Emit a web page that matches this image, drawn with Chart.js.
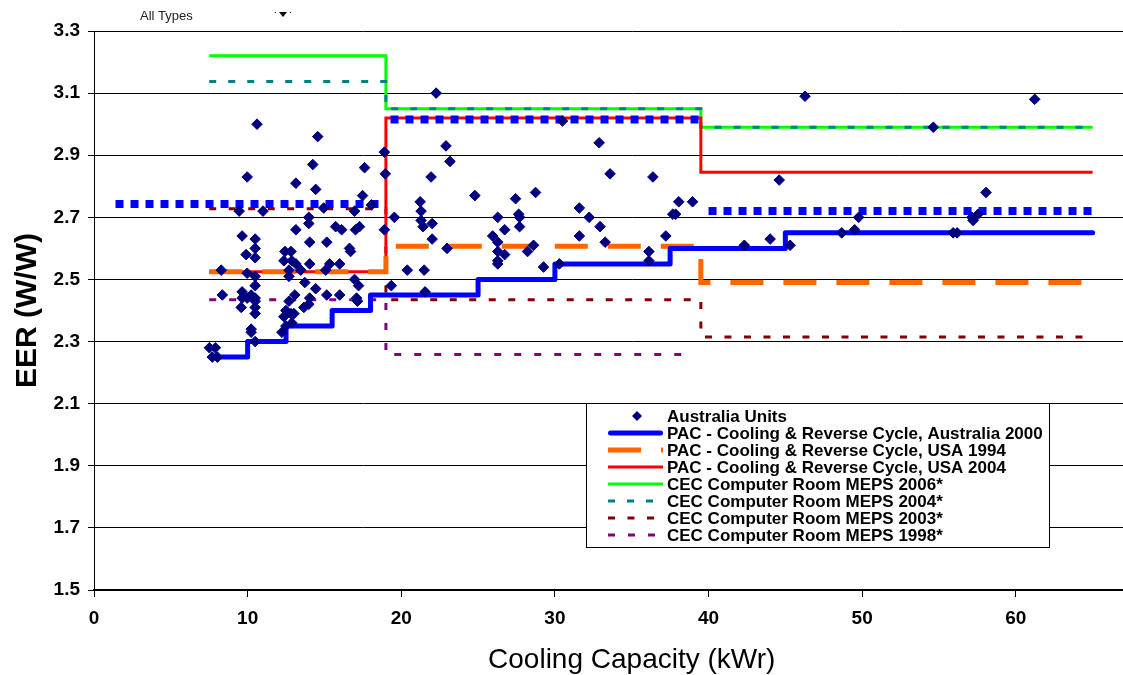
<!DOCTYPE html>
<html><head><meta charset="utf-8">
<script src="https://cdn.jsdelivr.net/npm/chart.js@4.4.1/dist/chart.umd.min.js"></script>
<style>
html,body{margin:0;padding:0;background:#fff;overflow:hidden;width:1123px;height:675px;}
#wrap{position:absolute;left:0;top:0;width:1190px;height:675px;}
</style></head><body>
<div id="wrap"><canvas id="c" width="1190" height="675"></canvas></div>
<script>
// ---- data ----
const seriesNames = [
  'Australia Units',
  'PAC - Cooling & Reverse Cycle, Australia 2000',
  'PAC - Cooling & Reverse Cycle, USA 1994',
  'PAC - Cooling & Reverse Cycle, USA 2004',
  'CEC Computer Room MEPS 2006*',
  'CEC Computer Room MEPS 2004*',
  'CEC Computer Room MEPS 2003*',
  'CEC Computer Room MEPS 1998*'
];
const xAxisTitle = 'Cooling Capacity (kWr)';
const yAxisTitle = 'EER (W/W)';
const filterLabel = 'All Types';

const ausUnitsX = [7.51,7.90,7.70,8.03,8.28,8.35,
 10.61,9.97,9.45,11.00,9.64,10.49,10.49,9.90,10.49,9.97,10.49,10.49,9.64,9.64,10.23,10.49,9.97,10.49,10.49,10.49,9.58,10.23,10.23,10.49,
 12.43,12.82,12.36,12.88,12.69,12.69,13.14,13.14,13.46,12.69,12.49,12.82,12.36,12.88,12.49,12.23,13.07,13.01,13.14,
 14.56,14.24,14.43,14.95,13.98,13.98,14.04,15.15,14.04,15.34,15.08,13.72,14.43,14.04,13.98,13.66,15.15,
 17.61,17.48,18.06,16.96,15.73,16.12,17.02,17.28,16.63,16.70,15.99,16.96,17.22,15.99,17.09,17.15,
 18.90,18.96,18.90,19.55,19.35,
 22.27,22.91,23.17,21.94,24.79,21.23,21.29,20.39,21.49,21.29,21.42,22.01,22.01,22.98,21.55,
 27.44,28.74,26.28,27.64,27.70,27.70,26.73,25.95,26.28,26.28,26.73,28.61,28.22,26.28,26.28,29.26,
 30.49,32.88,33.59,31.59,32.23,32.94,31.59,33.27,30.29,
 36.38,38.06,38.96,37.67,37.86,37.22,36.12,36.12,
 46.28,61.23,54.63,44.60,58.06,49.77,57.15,57.54,57.22,44.01,49.51,48.67,42.33,45.31,55.92,56.18];
const ausUnitsY = [2.28,2.28,2.25,2.25,2.53,2.45,
 3.00,2.83,2.72,2.72,2.64,2.63,2.60,2.58,2.57,2.52,2.51,2.48,2.46,2.44,2.45,2.44,2.44,2.43,2.41,2.39,2.41,2.34,2.33,2.30,
 2.59,2.59,2.56,2.56,2.53,2.51,2.81,2.66,2.53,2.43,2.40,2.39,2.38,2.36,2.35,2.33,2.45,2.39,2.55,
 2.96,2.87,2.79,2.73,2.70,2.68,2.62,2.62,2.55,2.55,2.53,2.49,2.47,2.44,2.42,2.41,2.45,
 2.86,2.77,2.74,2.72,2.67,2.66,2.66,2.67,2.60,2.59,2.55,2.50,2.48,2.45,2.44,2.43,
 2.91,2.84,2.66,2.70,2.48,
 3.10,2.93,2.88,2.83,2.77,2.75,2.72,2.53,2.53,2.69,2.67,2.68,2.63,2.60,2.46,
 2.76,2.78,2.70,2.71,2.70,2.67,2.66,2.64,2.62,2.59,2.58,2.61,2.59,2.56,2.55,2.54,
 3.01,2.94,2.84,2.73,2.70,2.67,2.64,2.62,2.55,
 2.83,2.75,2.75,2.71,2.71,2.64,2.59,2.56,
 3.09,3.08,2.99,2.82,2.78,2.70,2.70,2.71,2.69,2.63,2.66,2.65,2.61,2.61,2.65,2.65];

// step series: x where each level starts, level values (last point closes the line)
const aus2000X = [7.7,10,12.5,15.5,18,25,30,37.5,45,65];
const aus2000Y = [2.25,2.30,2.35,2.40,2.45,2.50,2.55,2.60,2.65,2.65];
const usa1994X = [7.5,19,39.5,65];
const usa1994Y = [2.525,2.607,2.49,2.49];
const usa2004X = [7.5,19,39.5,65];
const usa2004Y = [2.525,3.02,2.845,2.845];
const cec2006X = [7.5,19,39.5,65];
const cec2006Y = [3.22,3.05,2.99,2.99];
const cec2004X = [7.5,19,39.5,65];
const cec2004Y = [3.137,3.05,2.99,2.99];
const cec2003X = [7.5,19,39.5,65];
const cec2003Y = [2.728,2.435,2.315,2.315];
const cec1998X = [7.5,19,39];
const cec1998Y = [2.435,2.258,2.258];
// blue dotted (unlabelled) series, null = gap
const ausDotX = [1.4,19,19,19.3,39.7,39.7,40,65];
const ausDotY = [2.743,2.743,null,3.015,3.015,null,2.72,2.72];

const FONT = "'Liberation Sans', Arial, Helvetica, sans-serif";
function pts(xs, ys){ return xs.map((x,i)=>({x:x, y:ys[i]})); }
function levelsToPoints(xs, ys){
  // each level holds from its x to the next x, then the line steps
  const out = [];
  for (let i=0;i<xs.length;i++){
    if (i>0) out.push({x:xs[i], y:ys[i-1]});
    out.push({x:xs[i], y:ys[i]});
  }
  return out;
}
function stepLine(label, xs, ys, color, width, dash, order, extra){
  return Object.assign({label, data: levelsToPoints(xs,ys), showLine:true,
    borderColor:color, backgroundColor:color, borderWidth:width, borderDash:dash||[],
    pointRadius:0, pointHoverRadius:0, fill:false, order:order, inLegend:true}, extra||{});
}

const datasets = [
  {label: seriesNames[0], data: pts(ausUnitsX, ausUnitsY), showLine:false,
   pointStyle:'rectRot', pointRadius:5.3, pointHoverRadius:5.3,
   backgroundColor:'#000080', borderColor:'#000080', borderWidth:1, order:0, inLegend:true},
  stepLine(seriesNames[1], aus2000X, aus2000Y, '#0000FF', 5, [], 2, {borderCapStyle:'round', borderJoinStyle:'round'}),
  stepLine(seriesNames[2], usa1994X, usa1994Y, '#FF6600', 5, [33,20], 3),
  stepLine(seriesNames[3], usa2004X, usa2004Y, '#FF0000', 3, [], 4),
  stepLine(seriesNames[4], cec2006X, cec2006Y, '#00FF00', 3, [], 6),
  stepLine(seriesNames[5], cec2004X, cec2004Y, '#008080', 3, [7,12], 5),
  stepLine(seriesNames[6], cec2003X, cec2003Y, '#800000', 3, [7,12.5], 7),
  stepLine(seriesNames[7], cec1998X, cec1998Y, '#800080', 3, [7,13], 8),
  {label:'', data: pts(ausDotX, ausDotY), showLine:true, spanGaps:false,
   borderColor:'#0000FF', backgroundColor:'#0000FF', borderWidth:8, borderDash:[8,7],
   pointRadius:0, pointHoverRadius:0, fill:false, order:1, inLegend:false}
];

const boxLegend = {
  id:'boxLegend',
  afterDraw(chart){
    const ctx = chart.ctx;
    const L=586.5, T=403.5, R=1049.5, B=547.5;
    ctx.save();
    ctx.fillStyle='#fff'; ctx.fillRect(L,T,R-L,B-T);
    ctx.strokeStyle='#000'; ctx.lineWidth=1; ctx.setLineDash([]); ctx.strokeRect(L,T,R-L,B-T);
    const rows = chart.data.datasets.filter(d=>d.inLegend);
    rows.forEach((ds,i)=>{
      const y = 416 + i*17;
      ctx.save();
      if(!ds.showLine){
        ctx.fillStyle = ds.backgroundColor;
        ctx.beginPath();
        ctx.moveTo(637, y-5); ctx.lineTo(642, y); ctx.lineTo(637, y+5); ctx.lineTo(632, y); ctx.closePath();
        ctx.fill();
      } else {
        ctx.beginPath();
        ctx.strokeStyle = ds.borderColor; ctx.lineWidth = ds.borderWidth;
        ctx.setLineDash(ds.borderDash||[]);
        ctx.lineCap = ds.borderCapStyle || 'butt';
        const pad = ds.borderCapStyle==='round' ? ds.borderWidth/2 : 0;
        ctx.moveTo(608+pad, y); ctx.lineTo(663-pad, y); ctx.stroke();
      }
      ctx.restore();
      ctx.fillStyle='#000'; ctx.font='bold 17px '+FONT; ctx.textBaseline='middle'; ctx.textAlign='left';
      ctx.fillText(ds.label, 667, y+1);
    });
    // pivot filter remnant at the top
    ctx.font='13px '+FONT; ctx.fillStyle='#222'; ctx.textBaseline='alphabetic'; ctx.textAlign='left';
    ctx.fillText(filterLabel, 140, 20);
    ctx.fillStyle='#000';
    ctx.beginPath(); ctx.moveTo(279,12); ctx.lineTo(287,12); ctx.lineTo(283,17); ctx.closePath(); ctx.fill();
    ctx.fillRect(275,12,1,1); ctx.fillRect(290,12,1,1);
    ctx.restore();
  }
};

new Chart(document.getElementById('c'), {
  type:'scatter',
  data:{datasets},
  plugins:[boxLegend],
  options:{
    responsive:false, animation:false, devicePixelRatio:1, events:[],
    layout:{padding:{top:31,right:14.5,bottom:0,left:0}},
    plugins:{legend:{display:false}, tooltip:{enabled:false}},
    scales:{
      x:{type:'linear', min:0, max:70,
        ticks:{stepSize:10, color:'#000', font:{family:FONT,size:19,weight:'bold'}, padding:10, maxRotation:0},
        grid:{drawOnChartArea:false, drawTicks:true, tickLength:7, color:'#000'},
        border:{color:'#000', width:2},
        title:{display:true, text:xAxisTitle, color:'#000', font:{family:FONT,size:28,lineHeight:1}, padding:{top:0,bottom:1}},
        afterFit(s){ s.height = 85; }
      },
      y:{type:'linear', min:1.5, max:3.3,
        ticks:{stepSize:0.2, color:'#000', font:{family:FONT,size:19,weight:'bold'}, padding:8, callback:v=>Number(v).toFixed(1)},
        grid:{color:'#000', lineWidth:1, tickLength:6},
        border:{color:'#000', width:1},
        title:{display:true, text:yAxisTitle, color:'#000', font:{family:FONT,size:30,weight:'bold',lineHeight:1}, padding:{top:13,bottom:0}},
        afterFit(s){ s.width = 94; }
      }
    }
  }
});
</script></body></html>
